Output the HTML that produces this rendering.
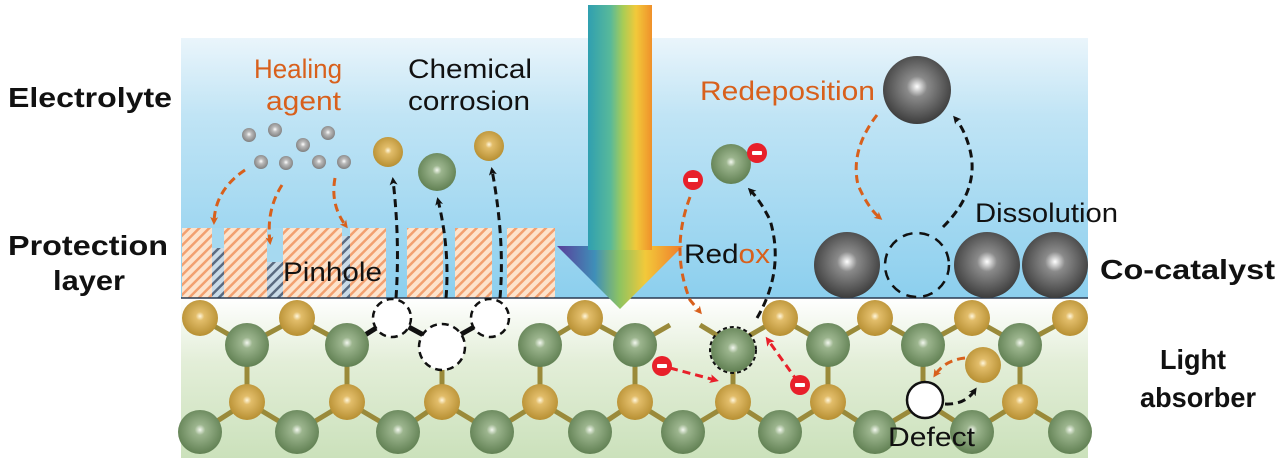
<!DOCTYPE html>
<html><head><meta charset="utf-8"><style>
html,body{margin:0;padding:0;background:#fff;}
svg{display:block;font-family:"Liberation Sans",Arial,sans-serif;}
</style></head><body>
<svg width="1280" height="463" viewBox="0 0 1280 463" xmlns="http://www.w3.org/2000/svg">
<defs>
<linearGradient id="blue" x1="0" y1="0" x2="0" y2="1">
<stop offset="0" stop-color="#eaf5fb"/><stop offset="0.3" stop-color="#c0e4f5"/><stop offset="1" stop-color="#8ccfee"/></linearGradient>
<linearGradient id="green" x1="0" y1="0" x2="0" y2="1">
<stop offset="0" stop-color="#ffffff"/><stop offset="0.4" stop-color="#e3eed8"/><stop offset="1" stop-color="#cbe1bb"/></linearGradient>
<linearGradient id="rain" x1="0" y1="0" x2="1" y2="0">
<stop offset="0" stop-color="#2f9fb0"/><stop offset="0.35" stop-color="#58b99a"/><stop offset="0.55" stop-color="#a9cc55"/><stop offset="0.75" stop-color="#f2c93a"/><stop offset="1" stop-color="#f0902a"/></linearGradient>
<linearGradient id="rainhead" x1="0" y1="0" x2="1" y2="0">
<stop offset="0" stop-color="#5a3d9a"/><stop offset="0.3" stop-color="#3f8fb8"/><stop offset="0.5" stop-color="#8fc460"/><stop offset="0.7" stop-color="#f2c93a"/><stop offset="1" stop-color="#f07a2a"/></linearGradient>
<radialGradient id="gold" cx="0.5" cy="0.45" r="0.6"><stop offset="0" stop-color="#fff6dc"/><stop offset="0.2" stop-color="#e2bd6a"/><stop offset="1" stop-color="#b28a2c"/></radialGradient>
<radialGradient id="grn" cx="0.5" cy="0.45" r="0.6"><stop offset="0" stop-color="#f2f7ee"/><stop offset="0.2" stop-color="#9cb58e"/><stop offset="1" stop-color="#5a7a4c"/></radialGradient>
<radialGradient id="gray" cx="0.5" cy="0.45" r="0.6"><stop offset="0" stop-color="#ffffff"/><stop offset="0.25" stop-color="#8a8a8a"/><stop offset="1" stop-color="#333"/></radialGradient>
<radialGradient id="lgray" cx="0.5" cy="0.45" r="0.6"><stop offset="0" stop-color="#fff"/><stop offset="0.3" stop-color="#bbb"/><stop offset="1" stop-color="#777"/></radialGradient>
<pattern id="hatch" width="7" height="7" patternUnits="userSpaceOnUse" patternTransform="rotate(45)">
<rect width="7" height="7" fill="#fde3cc"/><rect width="2.5" height="7" fill="#f2a070"/></pattern>
<pattern id="hatchd" width="7" height="7" patternUnits="userSpaceOnUse" patternTransform="rotate(45)">
<rect width="7" height="7" fill="#c9dbe8"/><rect width="2.5" height="7" fill="#5a6a80"/></pattern>
<marker id="ab" markerWidth="8" markerHeight="8" refX="5" refY="4" orient="auto" markerUnits="userSpaceOnUse"><path d="M0,0 L8,4 L0,8 L2,4z" fill="#111"/></marker>
<marker id="ao" markerWidth="8" markerHeight="8" refX="5" refY="4" orient="auto" markerUnits="userSpaceOnUse"><path d="M0,0 L8,4 L0,8 L2,4z" fill="#d8601c"/></marker>
<marker id="ar" markerWidth="9" markerHeight="9" refX="5" refY="4.5" orient="auto" markerUnits="userSpaceOnUse"><path d="M0,0 L9,4.5 L0,9 L2,4.5z" fill="#e8202a"/></marker>
</defs>

<rect x="181" y="38" width="907" height="260" fill="url(#blue)"/>
<rect x="181" y="298" width="907" height="160" fill="url(#green)"/>

<rect x="182" y="228" width="204" height="70" fill="url(#hatch)"/>
<rect x="212" y="228" width="12" height="20" fill="#a6d9f0"/><rect x="212" y="248" width="12" height="50" fill="url(#hatchd)"/>
<rect x="267" y="228" width="16" height="34" fill="#a6d9f0"/><rect x="267" y="262" width="16" height="36" fill="url(#hatchd)"/>
<rect x="342" y="228" width="8" height="8" fill="#a6d9f0"/><rect x="342" y="236" width="8" height="62" fill="url(#hatchd)"/>
<rect x="407" y="228" width="36" height="70" fill="url(#hatch)"/>
<rect x="455" y="228" width="37" height="70" fill="url(#hatch)"/>
<rect x="507" y="228" width="48" height="70" fill="url(#hatch)"/>
<line x1="181" y1="298" x2="1088" y2="298" stroke="#2a3a50" stroke-width="1.5"/>

<rect x="588" y="5" width="64" height="242" fill="url(#rain)"/>
<polygon points="557,246 683,246 620,309" fill="url(#rainhead)"/>
<rect x="588" y="240" width="64" height="10" fill="url(#rain)"/>

<g stroke="#9a8a3a" stroke-width="5">
<polyline points="200,318 247,345 297,318 347,345" fill="none"/>
<polyline points="540,345 585,318 635,345 670,325" fill="none"/>
<line x1="700" y1="325" x2="733" y2="345"/>
<polyline points="733,345 780,318 828,345 875,318 923,345 972,318 1020,345 1070,318" fill="none"/>
<polyline points="200,432 247,402 297,432 347,402 398,432 442,402 492,432 540,402 590,432 635,402 683,432 733,402 780,432 828,402 875,432 925,402 972,432 1020,402 1070,432" fill="none"/>
<line x1="247" y1="345" x2="247" y2="402"/><line x1="347" y1="345" x2="347" y2="402"/>
<line x1="442" y1="345" x2="442" y2="402"/><line x1="540" y1="345" x2="540" y2="402"/>
<line x1="635" y1="345" x2="635" y2="402"/><line x1="733" y1="345" x2="733" y2="402"/>
<line x1="828" y1="345" x2="828" y2="402"/><line x1="923" y1="345" x2="923" y2="402"/>
<line x1="1020" y1="345" x2="1020" y2="402"/>
</g>
<g stroke="#111" stroke-width="5"><line x1="365" y1="335" x2="392" y2="318"/><line x1="392" y1="318" x2="442" y2="345"/><line x1="442" y1="345" x2="490" y2="318"/></g>

<g fill="url(#gold)">
<circle cx="200" cy="318" r="18"/><circle cx="297" cy="318" r="18"/><circle cx="585" cy="318" r="18"/>
<circle cx="780" cy="318" r="18"/><circle cx="875" cy="318" r="18"/><circle cx="972" cy="318" r="18"/><circle cx="1070" cy="318" r="18"/>
<circle cx="247" cy="402" r="18"/><circle cx="347" cy="402" r="18"/><circle cx="442" cy="402" r="18"/><circle cx="540" cy="402" r="18"/>
<circle cx="635" cy="402" r="18"/><circle cx="733" cy="402" r="18"/><circle cx="828" cy="402" r="18"/><circle cx="1020" cy="402" r="18"/>
<circle cx="983" cy="365" r="18"/>
</g>
<g fill="url(#grn)">
<circle cx="247" cy="345" r="22"/><circle cx="347" cy="345" r="22"/><circle cx="540" cy="345" r="22"/><circle cx="635" cy="345" r="22"/>
<circle cx="733" cy="350" r="22"/><circle cx="828" cy="345" r="22"/><circle cx="923" cy="345" r="22"/><circle cx="1020" cy="345" r="22"/>
<circle cx="200" cy="432" r="22"/><circle cx="297" cy="432" r="22"/><circle cx="398" cy="432" r="22"/><circle cx="492" cy="432" r="22"/>
<circle cx="590" cy="432" r="22"/><circle cx="683" cy="432" r="22"/><circle cx="780" cy="432" r="22"/><circle cx="875" cy="432" r="22"/>
<circle cx="972" cy="432" r="22"/><circle cx="1070" cy="432" r="22"/>
</g>
<circle cx="733" cy="350" r="23" fill="none" stroke="#111" stroke-width="2" stroke-dasharray="4,3"/>
<g fill="#fff" stroke="#111" stroke-width="2.5" stroke-dasharray="7,5">
<circle cx="392" cy="318" r="19"/><circle cx="442" cy="347" r="23"/><circle cx="490" cy="318" r="19"/>
</g>
<circle cx="925" cy="400" r="18" fill="#fff" stroke="#111" stroke-width="2.5"/>

<g fill="url(#gray)">
<circle cx="847" cy="265" r="33"/><circle cx="987" cy="265" r="33"/><circle cx="1055" cy="265" r="33"/><circle cx="917" cy="90" r="34"/>
</g>
<circle cx="917" cy="265" r="32" fill="none" stroke="#111" stroke-width="2.5" stroke-dasharray="10,7"/>

<g fill="url(#lgray)">
<circle cx="249" cy="135" r="7"/><circle cx="275" cy="130" r="7"/><circle cx="303" cy="145" r="7"/><circle cx="328" cy="133" r="7"/>
<circle cx="261" cy="162" r="7"/><circle cx="286" cy="163" r="7"/><circle cx="319" cy="162" r="7"/><circle cx="344" cy="162" r="7"/>
</g>
<circle cx="388" cy="152" r="15" fill="url(#gold)"/>
<circle cx="437" cy="172" r="19" fill="url(#grn)"/>
<circle cx="489" cy="146" r="15" fill="url(#gold)"/>
<circle cx="731" cy="164" r="20" fill="url(#grn)"/>

<g fill="none" stroke-width="3" stroke-dasharray="8,5">
<path d="M245,170 Q215,190 214,222" stroke="#d8601c" marker-end="url(#ao)"/>
<path d="M282,185 Q266,210 270,242" stroke="#d8601c" marker-end="url(#ao)"/>
<path d="M335,178 Q330,205 346,226" stroke="#d8601c" marker-end="url(#ao)"/>
<path d="M396,298 Q400,240 393,180" stroke="#111" marker-end="url(#ab)"/>
<path d="M446,298 Q450,250 438,200" stroke="#111" marker-end="url(#ab)"/>
<path d="M500,298 Q505,240 492,170" stroke="#111" marker-end="url(#ab)"/>
<path d="M690,197 Q670,250 690,300 L700,312" stroke="#d8601c" marker-end="url(#ao)"/>
<path d="M757,318 Q785,270 770,220 Q760,200 750,190" stroke="#111" marker-end="url(#ab)"/>
<path d="M877,115 Q850,150 858,185 Q868,208 880,218" stroke="#d8601c" marker-end="url(#ao)"/>
<path d="M943,227 Q980,190 970,150 Q965,130 955,118" stroke="#111" marker-end="url(#ab)"/>
<path d="M945,404 Q965,405 975,390" stroke="#111" marker-end="url(#ab)"/>
<path d="M965,358 Q945,360 935,375" stroke="#d8601c" marker-end="url(#ao)"/>
<path d="M670,368 L715,380" stroke="#e8202a" marker-end="url(#ar)"/>
<path d="M798,382 L768,340" stroke="#e8202a" marker-end="url(#ar)"/>
</g>
<g>
<circle cx="693" cy="180" r="10" fill="#e8202a"/><rect x="688" y="178" width="10" height="4" rx="1" fill="#fff"/>
<circle cx="757" cy="153" r="10" fill="#e8202a"/><rect x="752" y="151" width="10" height="4" rx="1" fill="#fff"/>
<circle cx="662" cy="366" r="10" fill="#e8202a"/><rect x="657" y="364" width="10" height="4" rx="1" fill="#fff"/>
<circle cx="800" cy="385" r="10" fill="#e8202a"/><rect x="795" y="383" width="10" height="4" rx="1" fill="#fff"/>
</g>

<g font-weight="bold" font-size="28" fill="#111" lengthAdjust="spacingAndGlyphs">
<text x="8" y="107" textLength="164" lengthAdjust="spacingAndGlyphs">Electrolyte</text>
<text x="8" y="255" textLength="160" lengthAdjust="spacingAndGlyphs">Protection</text>
<text x="53" y="290" textLength="72" lengthAdjust="spacingAndGlyphs">layer</text>
<text x="1100" y="279" textLength="175" lengthAdjust="spacingAndGlyphs">Co-catalyst</text>
<text x="1160" y="369" textLength="66" lengthAdjust="spacingAndGlyphs">Light</text>
<text x="1140" y="407" textLength="116" lengthAdjust="spacingAndGlyphs">absorber</text>
</g>
<g font-size="27" fill="#d8601c">
<text x="254" y="78" textLength="88" lengthAdjust="spacingAndGlyphs">Healing</text>
<text x="266" y="110" textLength="75" lengthAdjust="spacingAndGlyphs">agent</text>
<text x="700" y="100" textLength="175" lengthAdjust="spacingAndGlyphs">Redeposition</text>
</g>
<g font-size="27" fill="#111">
<text x="408" y="78" textLength="124" lengthAdjust="spacingAndGlyphs">Chemical</text>
<text x="408" y="110" textLength="122" lengthAdjust="spacingAndGlyphs">corrosion</text>
<text x="975" y="222" textLength="143" lengthAdjust="spacingAndGlyphs">Dissolution</text>
<text x="283" y="281" textLength="99" lengthAdjust="spacingAndGlyphs">Pinhole</text>
<text x="684" y="263" textLength="86" lengthAdjust="spacingAndGlyphs">Red<tspan fill="#d8601c">ox</tspan></text>
<text x="888" y="446" textLength="87" lengthAdjust="spacingAndGlyphs">Defect</text>
</g>
</svg>
</body></html>
